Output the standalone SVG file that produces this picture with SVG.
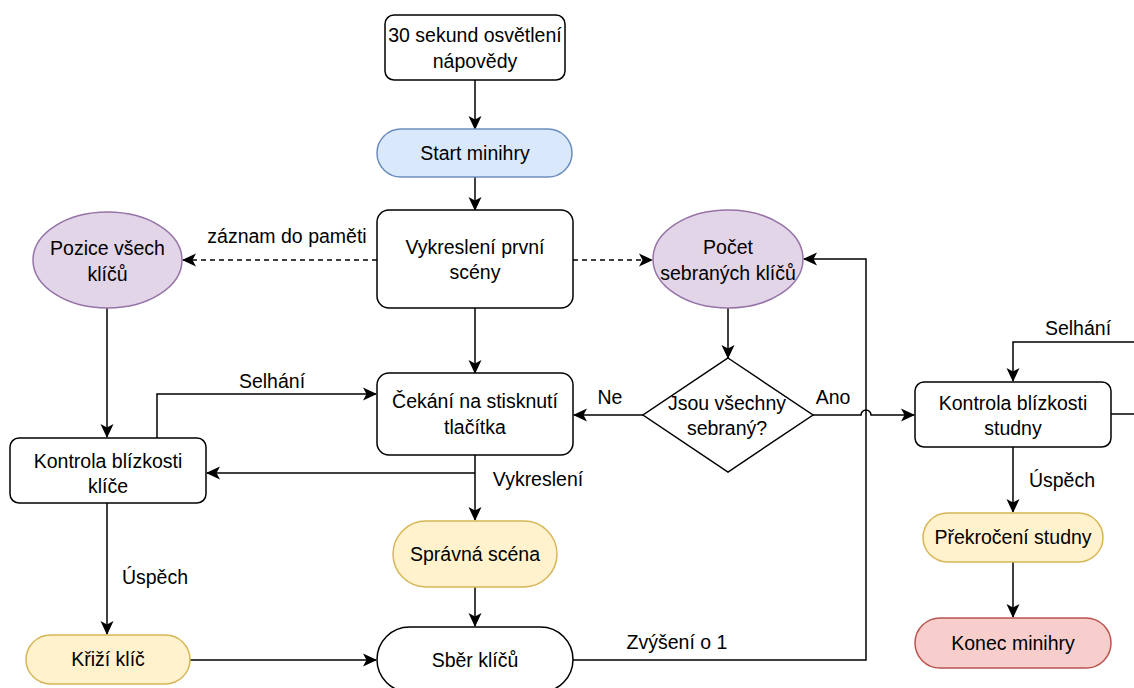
<svg xmlns="http://www.w3.org/2000/svg" width="1134" height="688" viewBox="0 0 1134 688">
  <style>
    text { font-family: "Liberation Sans", Arial, Helvetica, sans-serif; font-size: 19.5px; fill: #000; text-anchor: middle; dominant-baseline: central; }
    .box { fill: #fff; stroke: #000; stroke-width: 1.5; }
    .blue { fill: #dae8fc; stroke: #6c8ebf; stroke-width: 1.5; }
    .purple { fill: #e1d5e7; stroke: #9673a6; stroke-width: 1.5; }
    .yellow { fill: #fff2cc; stroke: #d6b656; stroke-width: 1.5; }
    .red { fill: #f8cecc; stroke: #b85450; stroke-width: 1.5; }
    .edge { fill: none; stroke: #000; stroke-width: 1.5; }
    .arrow { marker-end: url(#arr); }
    .dash { stroke-dasharray: 5 4; }
  </style>
  <defs>
    <marker id="arr" markerUnits="userSpaceOnUse" markerWidth="14" markerHeight="14" viewBox="0 0 14 14" refX="13" refY="7" orient="auto">
      <path d="M0,0.5 L14,7 L0,13.5 L3.5,7 Z" fill="#000"/>
    </marker>
  </defs>
  <rect width="1134" height="688" fill="#fff"/>

  <!-- connectors -->
  <g id="connectors">
    <path class="edge arrow" d="M475,80 V129"/>
    <path class="edge arrow" d="M475,177 V210"/>
    <path class="edge arrow" d="M475,308 V373"/>
    <path class="edge arrow dash" d="M377,260 H183"/>
    <text x="287" y="236">záznam do paměti</text>
    <path class="edge arrow dash" d="M573,260 H652"/>
    <path class="edge arrow" d="M728,308 V358"/>
    <path class="edge arrow" d="M643,415 H574"/>
    <text x="610" y="397">Ne</text>
    <path class="edge arrow" d="M813,415 H861 A5,5 0 0 1 871,415 H914"/>
    <text x="833" y="397">Ano</text>
    <path class="edge arrow" d="M107,308 V437"/>
    <path class="edge arrow" d="M157,438 V394 H376"/>
    <text x="272" y="381">Selhání</text>
    <path class="edge arrow" d="M475,455 V520"/>
    <path class="edge arrow" d="M475,473 H207"/>
    <text x="538" y="479">Vykreslení</text>
    <path class="edge arrow" d="M107,503 V634"/>
    <text x="155" y="577">Úspěch</text>
    <path class="edge arrow" d="M475,587 V626"/>
    <path class="edge arrow" d="M190,660 H376"/>
    <path class="edge arrow" d="M573,660 H866 V259 H804"/>
    <text x="677" y="642">Zvýšení o 1</text>
    <path class="edge arrow" d="M1111,414 H1140 V342 H1013 V381"/>
    <text x="1078" y="328">Selhání</text>
    <path class="edge arrow" d="M1013,447 V512"/>
    <text x="1062" y="480">Úspěch</text>
    <path class="edge arrow" d="M1013,562 V617"/>
  </g>

  <!-- nodes -->
  <g id="hint">
    <rect class="box" x="385" y="15" width="180" height="65" rx="9"/>
    <text x="475" y="35">30 sekund osvětlení</text>
    <text x="475" y="61">nápovědy</text>
  </g>
  <g id="start">
    <rect class="blue" x="377" y="129" width="195" height="48" rx="24"/>
    <text x="475" y="153">Start minihry</text>
  </g>
  <g id="first-scene">
    <rect class="box" x="377" y="210" width="196" height="98" rx="12"/>
    <text x="475" y="247">Vykreslení první</text>
    <text x="475" y="272">scény</text>
  </g>
  <g id="key-positions">
    <ellipse class="purple" cx="107.5" cy="260" rx="74.5" ry="48"/>
    <text x="107.5" y="248">Pozice všech</text>
    <text x="107.5" y="274">klíčů</text>
  </g>
  <g id="key-count">
    <ellipse class="purple" cx="728" cy="259" rx="75" ry="49"/>
    <text x="728" y="247">Počet</text>
    <text x="728" y="273">sebraných klíčů</text>
  </g>
  <g id="all-collected">
    <polygon class="box" points="728,358 813,415 728,472 643,415"/>
    <text x="727" y="403">Jsou všechny</text>
    <text x="727" y="428">sebraný?</text>
  </g>
  <g id="wait-button">
    <rect class="box" x="377" y="373" width="196" height="82" rx="12"/>
    <text x="475" y="401">Čekání na stisknutí</text>
    <text x="475" y="427">tlačítka</text>
  </g>
  <g id="key-proximity">
    <rect class="box" x="10" y="438" width="196" height="65" rx="9"/>
    <text x="108" y="461">Kontrola blízkosti</text>
    <text x="108" y="486">klíče</text>
  </g>
  <g id="well-proximity">
    <rect class="box" x="915" y="382" width="196" height="65" rx="9"/>
    <text x="1013" y="403">Kontrola blízkosti</text>
    <text x="1013" y="428">studny</text>
  </g>
  <g id="correct-scene">
    <rect class="yellow" x="393" y="521" width="164" height="66" rx="33"/>
    <text x="475" y="554">Správná scéna</text>
  </g>
  <g id="key-cross">
    <rect class="yellow" x="26" y="635" width="164" height="49" rx="24.5"/>
    <text x="108" y="659">Křiží klíč</text>
  </g>
  <g id="collect-keys">
    <rect class="box" x="377" y="627" width="196" height="65" rx="32.5"/>
    <text x="475" y="660">Sběr klíčů</text>
  </g>
  <g id="well-cross">
    <rect class="yellow" x="923" y="513" width="180" height="49" rx="24.5"/>
    <text x="1013" y="537">Překročení studny</text>
  </g>
  <g id="end">
    <rect class="red" x="915" y="618" width="196" height="50" rx="25"/>
    <text x="1013" y="643">Konec minihry</text>
  </g>
</svg>
